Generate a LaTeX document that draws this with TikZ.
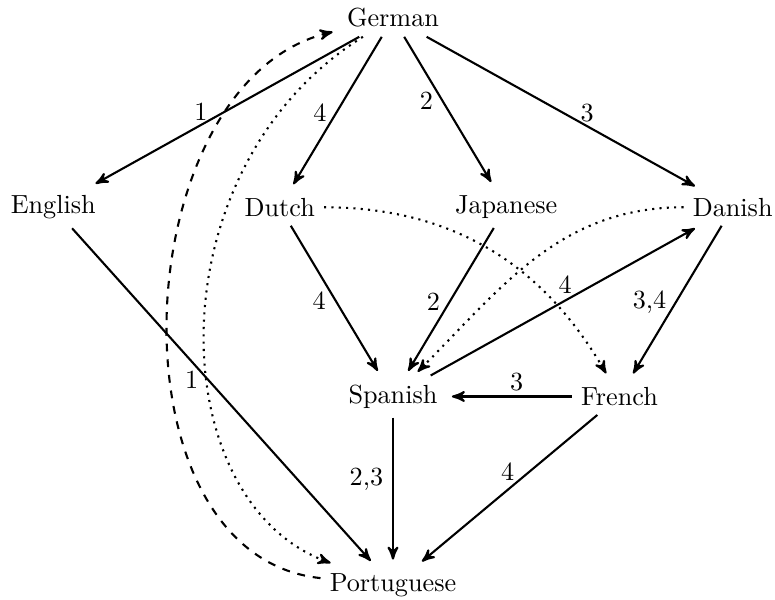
\documentclass[tikz,border=0pt]{standalone}
\usetikzlibrary{arrows}

\begin{document}
\begin{tikzpicture}[>=stealth', x=1.52cm, y=2.54cm,
    link/.style={->,thick,shorten >=2pt}]

    \useasboundingbox (-5.275cm,0.242cm) rectangle (5.128cm,-7.81cm);

    \node (German) at (0,0) {German};
    \node (English) at (-3,-1) {English};
    \node (Dutch) at (-1,-1) {Dutch};
    \node (Japanese) at (1,-1) {Japanese};
    \node (Danish) at (3,-1) {Danish};
    \node (Spanish) at (0,-2) {Spanish};
    \node (French) at (2,-2) {French};
    \node (Portuguese) at (0,-3) {Portuguese};

    \draw [link] (German) -- (English) node[pos=.5,left=3pt] {1};
    \draw [link] (German) -- (Dutch) node[midway,left] {4};
    \draw [link] (German) -- (Japanese) node[pos=.43,left] {2};
    \draw [link] (German) -- (Danish) node[pos=.5,right=3pt] {3};
    \draw [link] (English) -- (Portuguese) node[pos=.45,left] {1};
    \draw [link] (Dutch) -- (Spanish) node[midway,left] {4};
    \draw [link] (Japanese) -- (Spanish) node[midway,left] {2};
    \draw [link] (Spanish) -- (Danish) node[midway,above=-1pt] {4};
    \draw [link] (Danish) -- (French) node[midway,left] {3,4};
    \draw [link] (French) -- (Spanish) node[pos=.44,above=-1.5pt] {3};
    \draw [link] (Spanish) -- (Portuguese) node[pos=.42,left] {2,3};
    \draw [link] (French) -- (Portuguese) node[midway,above] {4};

    % curved ones
    \draw [link,dashed] (Portuguese) to[out=174,in=193,looseness=1.02] (German);
    \draw [link,dotted] (German) to[out=212,in=160,out looseness=1.2,in looseness=.9] (Portuguese);
    \draw [link,dotted] (Dutch) to[out=0,in=120] (French);
    \draw [link,dotted] (Danish) to[out=180,in=45] (Spanish);
\end{tikzpicture}
\end{document}
